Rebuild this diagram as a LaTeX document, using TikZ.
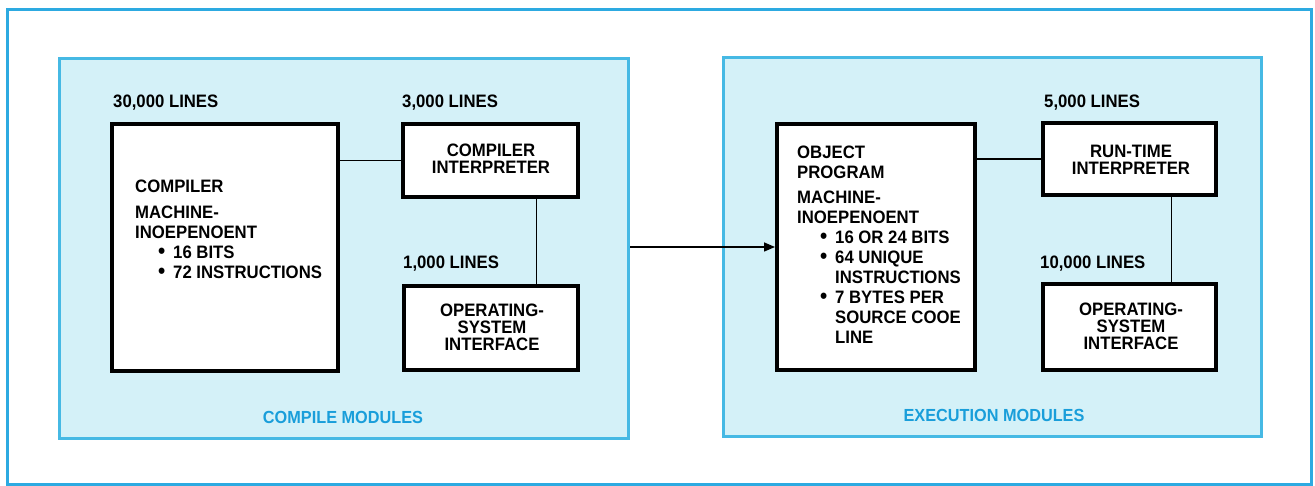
\documentclass[tikz,border=0pt]{standalone}
\usepackage{fontspec}
\setmainfont{Liberation Sans}[FakeStretch=0.93]
\usetikzlibrary{arrows.meta}
\definecolor{frameblue}{RGB}{45,170,225}
\definecolor{panelfill}{RGB}{212,241,248}
\definecolor{panelline}{RGB}{70,185,228}
\definecolor{labelblue}{RGB}{25,158,218}
\newcommand{\bul}{\makebox[38pt][r]{\smash{\raisebox{0.5pt}{\fontsize{22}{22}\selectfont•}}\hspace{8pt}}}
\newcommand{\ind}{\hspace*{38pt}}
\tikzset{
  panel/.style={draw=panelline, fill=panelfill, line width=3pt, inner sep=0pt},
  box/.style={draw=black, fill=white, line width=4pt, inner sep=0pt},
  txt/.style={inner sep=0pt, font=\bfseries\fontsize{18}{20}\selectfont, text=black},
  ctxt/.style={txt, align=center, font=\bfseries\fontsize{18}{17}\selectfont},
  ltxt/.style={txt, align=left, anchor=north west},
  lines/.style={txt, anchor=base west},
  modlabel/.style={inner sep=0pt, anchor=base, text=labelblue, font=\bfseries\fontsize{17.5}{20}\selectfont},
  conn/.style={draw=black, line width=1.5pt},
}
\begin{document}
\begin{tikzpicture}[x=1pt,y=-1pt]
\useasboundingbox (0,0) rectangle (1315,486);
\fill[white] (0,0) rectangle (1315,486);
\draw[frameblue, line width=3pt] (7,10) rectangle (1311,484);

% panels
\node[panel, minimum width=569pt, minimum height=380pt] (lp) at (344,248.5) {};
\node[panel, minimum width=538pt, minimum height=379pt] (rp) at (992.5,247) {};

% left boxes
\node[box, minimum width=226pt, minimum height=247pt] (comp) at (225,247.5) {};
\node[box, minimum width=175pt, minimum height=73pt] (interp) at (490.5,160.5) {};
\node[box, minimum width=174pt, minimum height=84pt] (os1) at (491,328) {};

% right boxes
\node[box, minimum width=198pt, minimum height=246pt] (obj) at (876,247) {};
\node[box, minimum width=173pt, minimum height=72pt] (rt) at (1129.5,159) {};
\node[box, minimum width=173pt, minimum height=86pt] (os2) at (1129.5,327) {};

% connectors
\draw[conn] (interp.west -| comp.east) -- (interp.west);
\draw[conn] ([xshift=46pt]interp.south) -- ([xshift=46pt]interp.south |- os1.north);
\draw[conn] (rt.west -| obj.east) -- (rt.west);
\draw[conn] ([xshift=42pt]rt.south) -- ([xshift=42pt]rt.south |- os2.north);
\draw[conn, -{Triangle[length=11pt,width=9pt]}] (lp.east |- obj.west) -- (obj.west);

% line counts
\node[lines] (l30) at (113,108) {30,000 LINES};
\node[lines] (l3) at (402,108) {3,000 LINES};
\node[lines] (l1) at (403,269) {1,000 LINES};
\node[lines] (l5) at (1044,108) {5,000 LINES};
\node[lines] (l10) at (1040,269) {10,000 LINES};

% box texts
\node[ltxt] (comptxt) at (135,180) {COMPILER\\[6pt]MACHINE-\\INOEPENOENT\\\bul 16 BITS\\\bul 72 INSTRUCTIONS};
\node[ctxt] (interptxt) at (491,159) {COMPILER\\INTERPRETER};
\node[ctxt] (os1txt) at (492,327) {OPERATING-\\SYSTEM\\INTERFACE};

\node[ltxt] (objtxt) at (797,146) {OBJECT\\PROGRAM\\[5pt]MACHINE-\\INOEPENOENT\\\bul 16 OR 24 BITS\\\bul 64 UNIQUE\\\ind INSTRUCTIONS\\\bul 7 BYTES PER\\\ind SOURCE COOE\\\ind LINE};
\node[ctxt] (rttxt) at (1131,159.5) {RUN-TIME\\INTERPRETER};
\node[ctxt] (os2txt) at (1131,326) {OPERATING-\\SYSTEM\\INTERFACE};

% module labels
\node[modlabel] (cm) at (343,423) {COMPILE MODULES};
\node[modlabel] (em) at (994,421) {EXECUTION MODULES};
\end{tikzpicture}
\end{document}
